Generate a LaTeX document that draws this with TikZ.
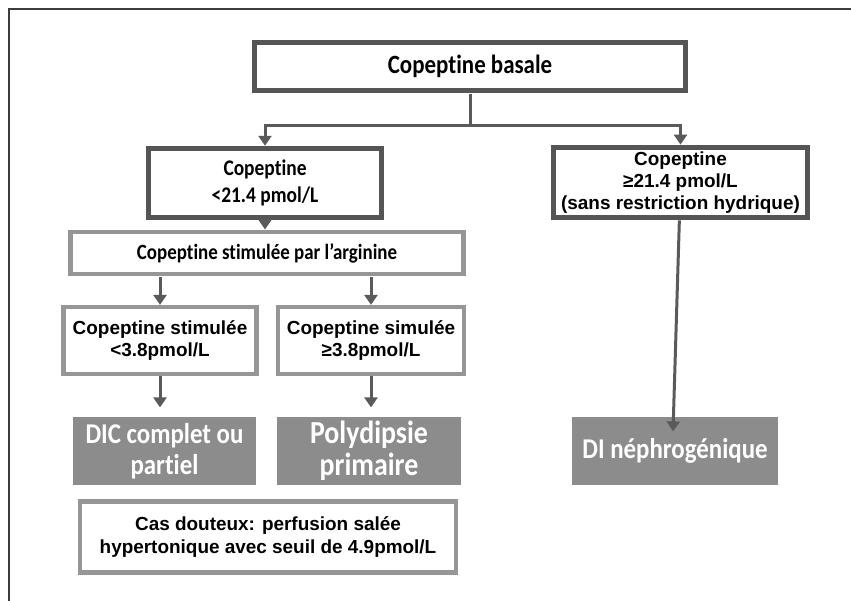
\documentclass[tikz,border=0pt]{standalone}
\usepackage{fontspec}
\setmainfont{Carlito}[Ligatures=NoCommon]
\newfontfamily\arialfont{Liberation Sans}
\usepackage{tikz}
\usetikzlibrary{arrows.meta,calc}
\definecolor{boxdark}{RGB}{85,85,85}
\definecolor{boxlight}{RGB}{150,150,150}
\definecolor{resultgray}{RGB}{140,140,140}
\definecolor{arrowgray}{RGB}{90,90,90}
\definecolor{framegray}{RGB}{60,60,60}

\begin{document}
\begin{tikzpicture}[x=1bp,y=-1bp,->,>={Triangle[width=13bp,length=10bp]},
                    line width=3bp,draw=arrowgray]
  \tikzstyle{every node}=[align=center,inner sep=0pt]
  \tikzstyle{darkbox}=[rectangle,draw=boxdark,line width=5bp,fill=white]
  \tikzstyle{lightbox}=[rectangle,draw=boxlight,line width=4.5bp,fill=white]
  \tikzstyle{result}=[rectangle,fill=resultgray,text=white]
  \tikzstyle{tallfont}=[yscale=1.15,transform shape]

  \useasboundingbox (0,0) rectangle (851,601);
  \draw[-,line width=2bp,draw=framegray] (851,9) -- (9,9) -- (9,601);

  \node[darkbox,tallfont,minimum width=433,minimum height=49/1.15,
        font=\fontsize{23}{27}\selectfont\bfseries] (basale) at (470,66.5) {Copeptine basale};
  \node[darkbox,tallfont,minimum width=233,minimum height=69/1.15,
        font=\fontsize{19.5}{24}\selectfont\bfseries] (low) at (265,183) {Copeptine\\<21.4 pmol/L};
  \node[darkbox,minimum width=255,minimum height=71,
        font=\arialfont\fontsize{19}{22}\selectfont\bfseries] (high) at (680.5,182.5)
        {Copeptine\\≥21.4 pmol/L\\(sans restriction hydrique)};
  \node[lightbox,tallfont,minimum width=394,minimum height=42/1.15,
        font=\fontsize{19}{22}\selectfont\bfseries] (arg) at (267,253) {Copeptine stimulée par l’arginine};
  \node[lightbox,minimum width=194,minimum height=67,
        font=\arialfont\fontsize{19}{22}\selectfont\bfseries] (stimlow) at (160,340.5) {Copeptine stimulée\\<3.8pmol/L};
  \node[lightbox,minimum width=187,minimum height=67,
        font=\arialfont\fontsize{19}{22}\selectfont\bfseries] (stimhigh) at (371,340.5) {Copeptine simulée\\≥3.8pmol/L};
  \node[result,tallfont,minimum width=184,minimum height=68/1.15,
        font=\fontsize{25}{27}\selectfont\bfseries] (dic) at (164.5,451) {DIC complet ou\\partiel};
  \node[result,tallfont,minimum width=185,minimum height=68/1.15,
        font=\fontsize{28}{28}\selectfont\bfseries] (poly) at (369,451) {Polydipsie\\primaire};
  \node[result,tallfont,minimum width=207,minimum height=68/1.15,
        font=\fontsize{25}{27}\selectfont\bfseries] (nephro) at (675,451) {DI néphrogénique};
  \node[lightbox,minimum width=377,minimum height=71,
        font=\arialfont\fontsize{19}{24}\selectfont\bfseries] (cas) at (268,537)
        {Cas douteux: perfusion salée\\hypertonique avec seuil de 4.9pmol/L};

  % connectors
  \coordinate (split) at ($(basale.south)+(0,32)$);
  \draw[-] (basale) -- (split);
  \draw (split) -| (low.north);
  \draw (split) -| (high.north);
  \draw (low) -- (low |- arg.north);
  \draw (arg.south -| stimlow) -- (stimlow);
  \draw (arg.south -| stimhigh) -- (stimhigh);
  \draw[shorten >=8bp] (stimlow) -- (stimlow |- dic.north);
  \draw[shorten >=8bp] (stimhigh) -- (stimhigh |- poly.north);
  \draw (high) -- ([xshift=-2bp,yshift=-16bp]nephro.north);
\end{tikzpicture}
\end{document}
